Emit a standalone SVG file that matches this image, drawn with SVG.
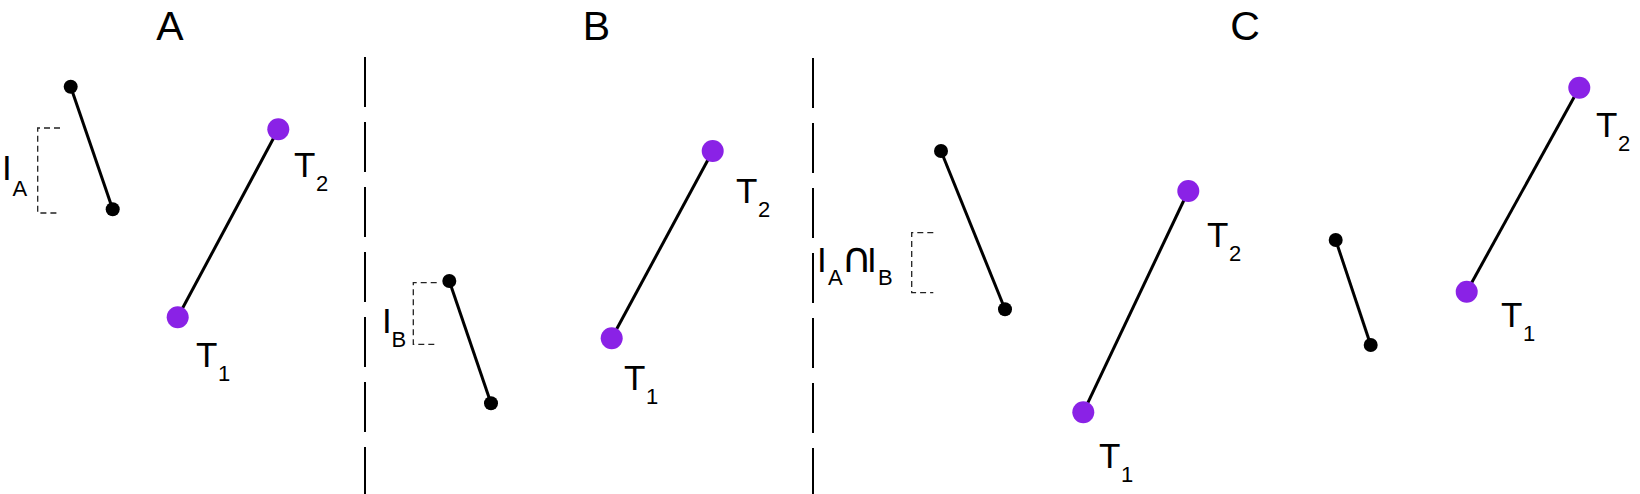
<svg xmlns="http://www.w3.org/2000/svg" width="1640" height="494" viewBox="0 0 1640 494">
<style>
text{font-family:"Liberation Sans","DejaVu Sans",Arial,sans-serif;fill:#000}
.title{font-size:41px;text-anchor:middle}
.lbl{font-size:35px}
.cap{font-size:42px;font-family:"DejaVu Sans",sans-serif}
.sub{font-size:22px}
.seg{stroke:#000;stroke-width:3;fill:none}
.tseg{stroke:#000;stroke-width:3;fill:none}
.dot{fill:#000}
.pdot{fill:#8a22e6}
.brk{stroke:#222;stroke-width:1.3;fill:none;stroke-dasharray:6 4}
.div{stroke:#000;stroke-width:2;stroke-dasharray:50 15;fill:none}
</style>
<rect width="1640" height="494" fill="#fff"/>
<g id="titles">
<text class="title" x="170" y="40">A</text>
<text class="title" x="596.5" y="40">B</text>
<text class="title" x="1245" y="40">C</text>
</g>
<g id="dividers">
<line class="div" x1="365" y1="57" x2="365" y2="494"/>
<line class="div" x1="813" y1="58" x2="813" y2="494"/>
</g>
<g id="connectors">
<line class="seg" x1="70.7" y1="86.7" x2="112.7" y2="209.3"/>
<line class="tseg" x1="177.7" y1="317.3" x2="278.3" y2="129.3"/>
<line class="seg" x1="449.3" y1="281" x2="491" y2="403.3"/>
<line class="tseg" x1="611.7" y1="338.3" x2="712.7" y2="151"/>
<line class="seg" x1="941" y1="151" x2="1005" y2="309.3"/>
<line class="tseg" x1="1083.3" y1="412.3" x2="1188.3" y2="191"/>
<line class="seg" x1="1335.7" y1="240" x2="1370.7" y2="345"/>
<line class="tseg" x1="1466.7" y1="291.7" x2="1579.3" y2="87.7"/>
</g>
<g id="panelA">
<circle class="dot" cx="70.7" cy="86.7" r="7"/>
<circle class="dot" cx="112.7" cy="209.3" r="7"/>
<path class="brk" d="M60,128 H37.7 V213 H60"/>
<text class="lbl" x="2" y="180">I<tspan class="sub" x="12.5" y="196">A</tspan></text>
<circle class="pdot" cx="278.3" cy="129.3" r="11"/>
<circle class="pdot" cx="177.7" cy="317.3" r="11"/>
<text class="lbl" x="294" y="177">T<tspan class="sub" x="316" y="191">2</tspan></text>
<text class="lbl" x="196" y="367">T<tspan class="sub" x="218" y="381">1</tspan></text>
</g>
<g id="panelB">
<circle class="dot" cx="449.3" cy="281" r="7"/>
<circle class="dot" cx="491" cy="403.3" r="7"/>
<path class="brk" d="M436.7,282.7 H413.3 V344.3 H436.7"/>
<text class="lbl" x="382" y="333">I<tspan class="sub" x="391.5" y="347">B</tspan></text>
<circle class="pdot" cx="712.7" cy="151" r="11"/>
<circle class="pdot" cx="611.7" cy="338.3" r="11"/>
<text class="lbl" x="736" y="203">T<tspan class="sub" x="758" y="217">2</tspan></text>
<text class="lbl" x="624" y="390">T<tspan class="sub" x="646" y="404">1</tspan></text>
</g>
<g id="panelC">
<circle class="dot" cx="941" cy="151" r="7"/>
<circle class="dot" cx="1005" cy="309.3" r="7"/>
<path class="brk" d="M933.3,232.7 H911.7 V292.7 H933.3"/>
<text class="lbl" x="817" y="272">I<tspan class="sub" x="828" y="285">A</tspan><tspan class="cap" x="841.2" y="272">∩</tspan><tspan x="867" y="272">I</tspan><tspan class="sub" x="878" y="285">B</tspan></text>
<circle class="pdot" cx="1188.3" cy="191" r="11"/>
<circle class="pdot" cx="1083.3" cy="412.3" r="11"/>
<text class="lbl" x="1207" y="247">T<tspan class="sub" x="1229" y="261">2</tspan></text>
<text class="lbl" x="1099" y="468">T<tspan class="sub" x="1121" y="482">1</tspan></text>
</g>
<g id="panelD">
<circle class="dot" cx="1335.7" cy="240" r="7"/>
<circle class="dot" cx="1370.7" cy="345" r="7"/>
<circle class="pdot" cx="1579.3" cy="87.7" r="11"/>
<circle class="pdot" cx="1466.7" cy="291.7" r="11"/>
<text class="lbl" x="1596" y="137">T<tspan class="sub" x="1618" y="151">2</tspan></text>
<text class="lbl" x="1501" y="327">T<tspan class="sub" x="1523" y="341">1</tspan></text>
</g>
</svg>
